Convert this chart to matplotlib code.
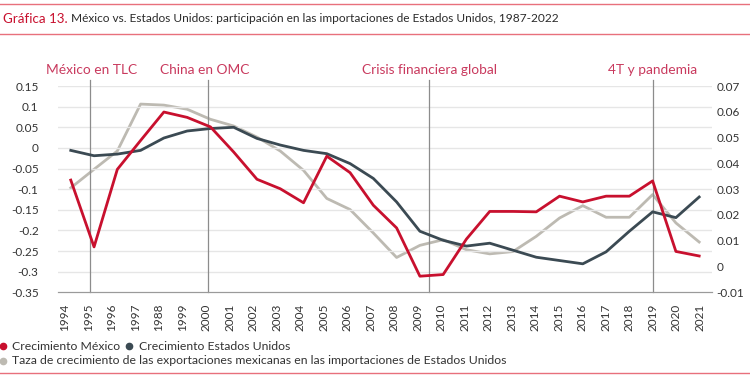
import matplotlib
matplotlib.use('Agg')
import matplotlib.pyplot as plt
import matplotlib.lines as mlines
import numpy as np

plt.rcParams['font.family'] = ['Lato', 'DejaVu Sans']

# datos
years = list(range(1994, 2022))
year_labels = ['1994', '1995', '1996', '1997', '1988', '1999', '2000', '2001', '2002',
               '2003', '2004', '2005', '2006', '2007', '2008', '2009', '2010', '2011',
               '2012', '2013', '2014', '2015', '2016', '2017', '2018', '2019', '2020', '2021']

crec_mexico = [-0.078, -0.240, -0.052, 0.018, 0.087, 0.074, 0.051, -0.010, -0.076, -0.099,
               -0.133, -0.020, -0.060, -0.139, -0.194, -0.311, -0.307, -0.221, -0.154, -0.154,
               -0.155, -0.117, -0.131, -0.117, -0.117, -0.080, -0.251, -0.262]

crec_eu = [-0.006, -0.019, -0.015, -0.006, 0.024, 0.041, 0.047, 0.050, 0.023, 0.007,
           -0.006, -0.014, -0.038, -0.074, -0.131, -0.202, -0.224, -0.238, -0.231, -0.248,
           -0.265, -0.273, -0.281, -0.252, -0.202, -0.155, -0.169, -0.119]

# eje derecho
taza_export = [0.0305, 0.0377, 0.0448, 0.0630, 0.0626, 0.0610, 0.0571, 0.0545, 0.0502, 0.0448,
               0.0373, 0.0264, 0.0221, 0.0130, 0.0035, 0.0082, 0.0104, 0.0065, 0.0049, 0.0058,
               0.0117, 0.0188, 0.0236, 0.0191, 0.0191, 0.0279, 0.0169, 0.0095]

eventos = ['México en TLC', 'China en OMC', 'Crisis financiera global', '4T y pandemia']
eventos_x = [1994.83, 1999.9, 2009.4, 2019.0]

rojo = '#c8102e'
oscuro = '#3b4a53'
gris = '#bdbab2'
rosa = '#c93a5e'

fig = plt.figure(figsize=(7.5, 3.79), dpi=100)
ax = fig.add_axes([0.0773, 0.2288, 0.8720, 0.5442])
ax2 = ax.twinx()

ax.plot(years, crec_mexico, color=rojo, lw=2.0, zorder=4)
ax.plot(years, crec_eu, color=oscuro, lw=2.0, zorder=3)
ax2.plot(years, taza_export, color=gris, lw=2.0, zorder=2)
ax.set_zorder(ax2.get_zorder() + 1)
ax.patch.set_visible(False)

ax.set_ylim(-0.35, 0.15)
ax2.set_ylim(-0.01, 0.07)
ax.set_xlim(1993.45, 2021.55)

lt = np.round(np.arange(-0.35, 0.1501, 0.05), 2) + 0.0
ax.set_yticks(lt)
ax.set_yticklabels(['%g' % v for v in lt])
rt = np.round(np.arange(-0.01, 0.0701, 0.01), 2) + 0.0
ax2.set_yticks(rt)
ax2.set_yticklabels(['%g' % v for v in rt])

ax.set_xticks([y - 0.25 + 0.01 * (y - 1994) for y in years])
ax.set_xticklabels(year_labels, rotation=90)

for v in lt[1:]:
    ax.axhline(v, color='#e6e6e6', lw=1.0, zorder=0)

for a in (ax, ax2):
    for s in ('top', 'left', 'right'):
        a.spines[s].set_visible(False)
    a.spines['bottom'].set_color('#9a9a9a')
    a.tick_params(length=0, labelsize=8.5, colors='#333333')
ax.tick_params(axis='y', pad=14)
ax.tick_params(axis='x', pad=8)
ax2.tick_params(axis='y', pad=3)

for xe in eventos_x:
    ax.axvline(xe, ymin=0, ymax=1.03, color='#8c8c8c', lw=0.9, clip_on=False, zorder=1)

fs_ev = 9.9
ev_px = [46, 160, 362, 608]
for nombre, px in zip(eventos, ev_px):
    fig.text(px / 750, 1 - 70 / 379, nombre, color=rosa, fontsize=fs_ev, va='center')

# lineas rojas del marco
for yy in (4, 34, 373):
    fig.add_artist(mlines.Line2D([0, 1], [1 - yy / 379, 1 - yy / 379], color='#e8707c', lw=1.0))

# titulo en dos colores
t1 = fig.text(3 / 750, 1 - 19 / 379, 'Gráfica 13.', color=rojo, fontsize=9.6, va='center')
fig.canvas.draw()
bb = t1.get_window_extent()
fig.text(bb.x1 / 750 + 3 / 750, 1 - 19 / 379,
         'México vs. Estados Unidos: participación en las importaciones de Estados Unidos, 1987-2022',
         color='#2b2b2b', fontsize=8.6, va='center')

# leyenda
fs_leg = 8.8
fig.add_artist(mlines.Line2D([3 / 750], [1 - 346 / 379], marker='o', ms=4.5, color=rojo, lw=0))
fig.text(12 / 750, 1 - 346 / 379, 'Crecimiento México', color='#333333', fontsize=fs_leg, va='center')
fig.add_artist(mlines.Line2D([129 / 750], [1 - 346 / 379], marker='o', ms=4.5, color=oscuro, lw=0))
fig.text(139 / 750, 1 - 346 / 379, 'Crecimiento Estados Unidos', color='#333333', fontsize=fs_leg, va='center')
fig.add_artist(mlines.Line2D([3 / 750], [1 - 361 / 379], marker='o', ms=4.5, color=gris, lw=0))
fig.text(12 / 750, 1 - 361 / 379,
         'Taza de crecimiento de las exportaciones mexicanas en las importaciones de Estados Unidos',
         color='#333333', fontsize=fs_leg, va='center')

fig.savefig('out.png', dpi=100)
